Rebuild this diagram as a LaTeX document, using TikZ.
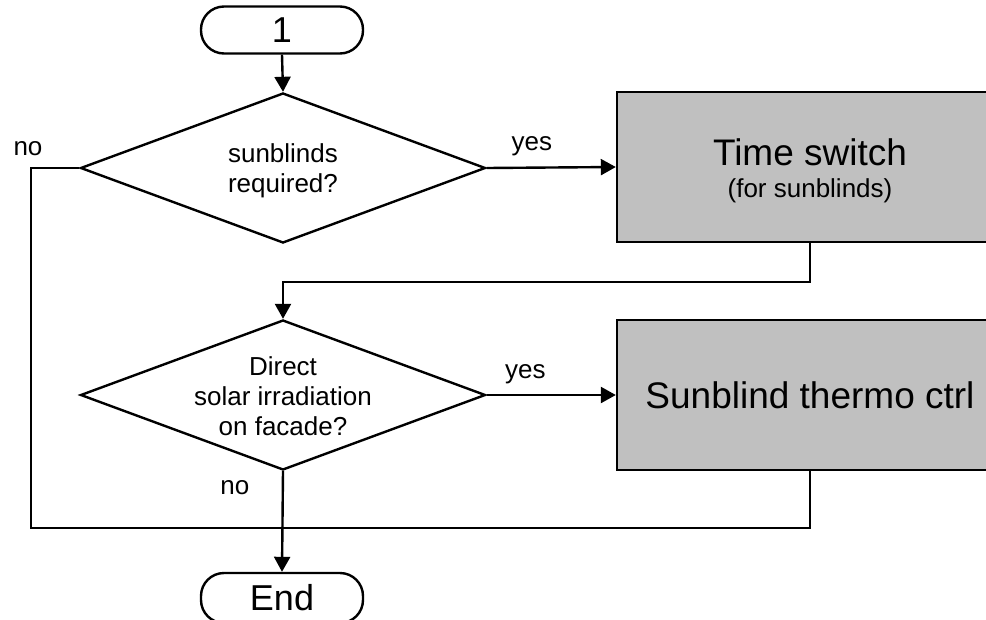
\documentclass[tikz,border=0pt]{standalone}
\usepackage{fontspec}
\setmainfont{Liberation Sans}
\usetikzlibrary{shapes.geometric,arrows.meta}
\definecolor{boxgray}{HTML}{C0C0C0}
\tikzset{
  x=1pt, y=-1pt,
  every node/.style={font=\fontsize{26}{30}\selectfont},
  line/.style={line width=2.4pt, line join=miter},
  arr/.style={line, -{Triangle[length=15pt,width=16pt]}},
  term/.style={draw, line width=2.4pt, rounded corners=23pt, minimum width=162pt, minimum height=47pt, inner sep=0pt, font=\fontsize{36}{40}\selectfont},
  decision/.style={draw, line width=2.4pt, diamond, minimum width=405pt, minimum height=150pt, inner sep=0pt},
  procbox/.style={draw, line width=2.4pt, fill=boxgray, minimum width=386pt, minimum height=150pt, inner sep=0pt, align=center},
  dtext/.style={align=center, inner sep=0pt},
  lbl/.style={inner sep=0pt, anchor=base}
}
\begin{document}
\begin{tikzpicture}
\clip (0,0) rectangle (986,619);
\fill[white] (0,0) rectangle (986,619);

\node[term] (start) at (282,30) {1};
\node[decision] (d1) at (283,168) {};
\node[dtext] (t1) at (283,171) {sunblinds\\required?};
\node[procbox] (b1) at (810,167) {};
\node[dtext] (t3) at ([yshift=-4pt]b1.center) {{\fontsize{37}{40}\selectfont Time switch}\\[2pt]{\fontsize{26}{30}\selectfont (for sunblinds)}};
\node[decision] (d2) at (283,395) {};
\node[dtext] (t2) at (283,396) {Direct\\solar irradiation\\on facade?};
\node[procbox, font=\fontsize{37}{40}\selectfont] (b2) at (810,395) {Sunblind thermo ctrl};
\node[term, minimum height=50pt] (end) at (282,598) {End};

\coordinate (cl) at (31,528);
\coordinate (cr) at (b2.south |- cl);

\draw[arr] (start.south) -- (d1.north);
\draw[arr] (d1.east) -- (b1.west) node[lbl, pos=0.35, yshift=17pt] {yes};
\draw[arr] (b1.south) -- ++(0,39) -| (d2.north);
\draw[arr] (d2.east) -- (b2.west) node[lbl, pos=0.3, yshift=17pt] {yes};
\draw[line] (d1.west) -| (cl) node[lbl, pos=0.5, yshift=13pt, xshift=-3pt] {no} -- (cr) -- (b2.south);
\draw[arr] (d2.south) -- (end.north) node[lbl, pos=0.23, xshift=-48pt] {no};
\end{tikzpicture}
\end{document}
